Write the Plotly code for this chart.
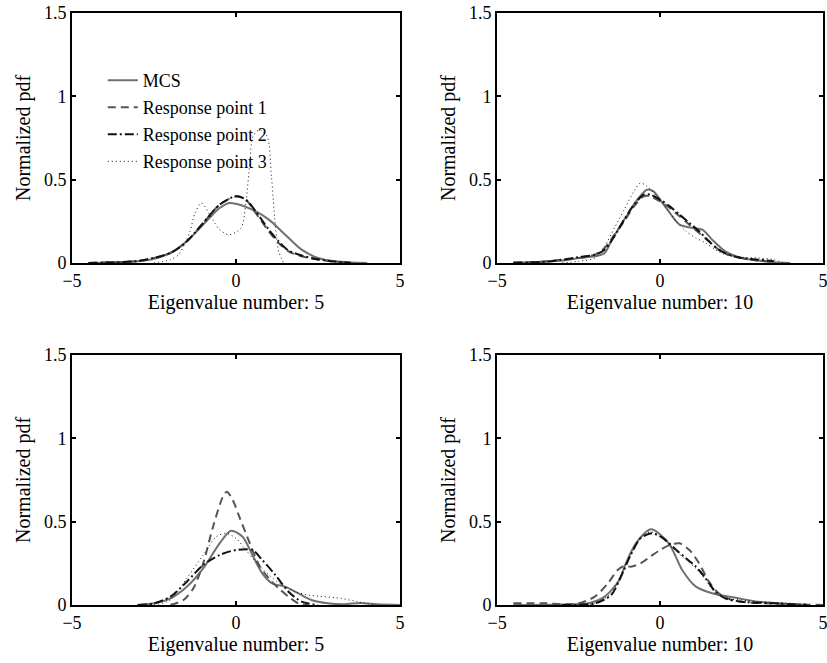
import plotly.graph_objects as go

# ---------------- data ----------------
# Panel A: top-left, eigenvalue 5
a_mcs_x = [-4.5, -4, -3.5, -3, -2.5, -2, -1.5, -1, -0.5, -0.2, 0, 0.5, 1, 1.5, 2, 2.5, 3, 3.5, 4]
a_mcs_y = [0.0, 0.002, 0.005, 0.01, 0.025, 0.06, 0.13, 0.23, 0.33, 0.36, 0.355, 0.32, 0.26, 0.17, 0.08, 0.03, 0.01, 0.003, 0.0]
a_rp1_x = [-4.5, -4, -3, -2, -1.5, -1, -0.5, 0, 0.3, 0.6, 1, 1.3, 1.6, 2, 2.5, 3, 3.5]
a_rp1_y = [0.0, 0.003, 0.012, 0.06, 0.13, 0.24, 0.35, 0.40, 0.38, 0.30, 0.19, 0.12, 0.07, 0.04, 0.02, 0.008, 0.002]
a_rp2_x = [-4.5, -4, -3, -2, -1.5, -1, -0.5, 0, 0.3, 0.6, 1, 1.3, 1.6, 2, 2.5, 3, 3.5]
a_rp2_y = [0.0, 0.003, 0.012, 0.06, 0.13, 0.24, 0.35, 0.40, 0.38, 0.31, 0.20, 0.13, 0.075, 0.045, 0.022, 0.009, 0.002]
a_rp3_x = [-2.5, -2, -1.75, -1.55, -1.4, -1.25, -1.05, -0.8, -0.5, -0.2, 0.15, 0.3, 0.42, 0.52, 0.72, 0.95, 1.08, 1.18, 1.3, 1.45]
a_rp3_y = [0.0, 0.02, 0.05, 0.12, 0.19, 0.30, 0.36, 0.29, 0.20, 0.17, 0.21, 0.36, 0.60, 0.76, 0.80, 0.76, 0.52, 0.27, 0.07, 0.0]

# Panel B: top-right, eigenvalue 10
b_mcs_x = [-4.5, -4, -3.5, -3, -2.5, -2, -1.7, -1.5, -1.2, -1, -0.7, -0.4, -0.2, 0, 0.3, 0.6, 1, 1.3, 1.6, 2, 2.5, 3, 3.5, 4]
b_mcs_y = [0.002, 0.004, 0.008, 0.015, 0.03, 0.04, 0.06, 0.13, 0.23, 0.29, 0.38, 0.44, 0.43, 0.38, 0.30, 0.23, 0.21, 0.20, 0.14, 0.07, 0.03, 0.015, 0.005, 0.0]
b_rp1_x = [-4.5, -3.5, -3, -2.5, -2, -1.7, -1.4, -1.1, -0.8, -0.5, -0.3, 0, 0.3, 0.6, 0.9, 1.2, 1.5, 1.8, 2.1, 2.5, 3, 3.5]
b_rp1_y = [0.002, 0.01, 0.02, 0.03, 0.05, 0.09, 0.17, 0.25, 0.34, 0.40, 0.40, 0.37, 0.33, 0.28, 0.23, 0.18, 0.13, 0.08, 0.05, 0.03, 0.015, 0.005]
b_rp2_x = [-4.5, -3.5, -3, -2.5, -2, -1.7, -1.4, -1.1, -0.8, -0.5, -0.3, 0, 0.3, 0.6, 0.9, 1.2, 1.5, 1.8, 2.1, 2.5, 3, 3.5]
b_rp2_y = [0.002, 0.008, 0.02, 0.035, 0.05, 0.08, 0.16, 0.26, 0.35, 0.41, 0.41, 0.38, 0.34, 0.29, 0.24, 0.19, 0.13, 0.08, 0.05, 0.03, 0.02, 0.01]
b_rp3_x = [-3, -2.5, -2, -1.7, -1.4, -1.1, -0.8, -0.6, -0.4, -0.1, 0.2, 0.5, 0.8, 1.1, 1.4, 1.7, 2, 2.5, 3, 3.5, 3.8]
b_rp3_y = [0.0, 0.01, 0.03, 0.10, 0.21, 0.32, 0.43, 0.48, 0.46, 0.40, 0.33, 0.25, 0.19, 0.15, 0.12, 0.08, 0.05, 0.035, 0.03, 0.02, 0.0]

# Panel C: bottom-left, eigenvalue 5
c_mcs_x = [-3, -2.5, -2, -1.5, -1, -0.5, -0.15, 0.2, 0.5, 0.8, 1.1, 1.5, 1.9, 2.3, 2.8, 3.3, 3.8, 4.3, 5]
c_mcs_y = [0.0, 0.01, 0.04, 0.11, 0.22, 0.37, 0.445, 0.41, 0.30, 0.19, 0.13, 0.11, 0.07, 0.03, 0.01, 0.005, 0.012, 0.005, 0.0]
c_rp1_x = [-2, -1.6, -1.3, -1.0, -0.7, -0.4, -0.28, -0.1, 0.1, 0.4, 0.7, 1.0, 1.3, 1.6, 1.9, 2.2]
c_rp1_y = [0.0, 0.03, 0.10, 0.25, 0.47, 0.65, 0.68, 0.63, 0.53, 0.38, 0.24, 0.16, 0.10, 0.05, 0.01, 0.0]
c_rp2_x = [-3, -2.5, -2, -1.5, -1, -0.5, 0, 0.5, 0.8, 1.2, 1.6, 2.0, 2.5]
c_rp2_y = [0.0, 0.01, 0.05, 0.14, 0.24, 0.30, 0.33, 0.33, 0.27, 0.18, 0.08, 0.02, 0.0]
c_rp3_x = [-2.5, -2, -1.5, -1, -0.6, -0.3, 0, 0.3, 0.6, 1, 1.4, 1.8, 2.2, 2.7, 3.2, 3.7, 4.2]
c_rp3_y = [0.0, 0.03, 0.16, 0.30, 0.41, 0.43, 0.40, 0.33, 0.26, 0.18, 0.12, 0.08, 0.06, 0.05, 0.04, 0.02, 0.0]

# Panel D: bottom-right, eigenvalue 10
d_mcs_x = [-4.5, -3, -2.2, -1.7, -1.25, -1.05, -0.74, -0.28, 0.27, 0.68, 1.1, 1.6, 2.4, 3.0, 3.6, 4.5]
d_mcs_y = [0.0, 0.003, 0.01, 0.05, 0.15, 0.25, 0.37, 0.454, 0.37, 0.21, 0.11, 0.07, 0.04, 0.02, 0.01, 0.0]
d_rp1_x = [-4.5, -3.5, -3, -2.5, -2, -1.6, -1.3, -1.1, -0.9, -0.6, -0.3, 0, 0.3, 0.6, 0.9, 1.2, 1.5, 1.8, 2.2, 2.7, 3.2, 4, 5]
d_rp1_y = [0.01, 0.01, 0.005, 0.01, 0.05, 0.13, 0.21, 0.235, 0.23, 0.25, 0.29, 0.33, 0.36, 0.37, 0.33, 0.25, 0.14, 0.07, 0.03, 0.015, 0.01, 0.005, 0.0]
d_rp2_x = [-3, -2, -1.5, -1.2, -0.9, -0.6, -0.25, 0.1, 0.5, 0.8, 1.1, 1.4, 1.7, 2.0, 2.5, 3.5, 4.5]
d_rp2_y = [0.0, 0.01, 0.06, 0.17, 0.30, 0.40, 0.43, 0.40, 0.33, 0.28, 0.23, 0.16, 0.08, 0.04, 0.02, 0.01, 0.0]
d_rp3_x = [-3, -2, -1.5, -1.2, -0.9, -0.6, -0.3, 0, 0.4, 0.8, 1.1, 1.4, 1.7, 2, 2.5, 3, 3.5, 4, 4.5]
d_rp3_y = [0.0, 0.01, 0.07, 0.18, 0.30, 0.40, 0.44, 0.41, 0.34, 0.27, 0.22, 0.15, 0.07, 0.04, 0.03, 0.02, 0.015, 0.01, 0.005]

series_names = ["MCS", "Response point 1", "Response point 2", "Response point 3"]
panel_titles = ["Eigenvalue number: 5", "Eigenvalue number: 10",
                "Eigenvalue number: 5", "Eigenvalue number: 10"]
x_ticks = [-5, 0, 5]
y_ticks = [0, 0.5, 1, 1.5]
y_tick_text = ["0", "0.5", "1", "1.5"]

panels = [
    [(a_mcs_x, a_mcs_y), (a_rp1_x, a_rp1_y), (a_rp2_x, a_rp2_y), (a_rp3_x, a_rp3_y)],
    [(b_mcs_x, b_mcs_y), (b_rp1_x, b_rp1_y), (b_rp2_x, b_rp2_y), (b_rp3_x, b_rp3_y)],
    [(c_mcs_x, c_mcs_y), (c_rp1_x, c_rp1_y), (c_rp2_x, c_rp2_y), (c_rp3_x, c_rp3_y)],
    [(d_mcs_x, d_mcs_y), (d_rp1_x, d_rp1_y), (d_rp2_x, d_rp2_y), (d_rp3_x, d_rp3_y)],
]

# ---------------- styling ----------------
styles = [
    dict(color="#707070", width=2, dash="solid"),
    dict(color="#555555", width=2, dash="8px,5px"),
    dict(color="#111111", width=2, dash="9px,3px,2px,3px"),
    dict(color="#111111", width=1, dash="1px,3px"),
]

FONT = "Liberation Serif, Times New Roman, serif"
TICK_SIZE = 18
TITLE_SIZE = 20

fig = go.Figure()

xdom = [[0.0, 0.4368], [0.566, 1.0]]
ydom = [[0.5777, 1.0], [0.0, 0.4223]]

for p, series in enumerate(panels):
    ax = "" if p == 0 else str(p + 1)
    for s, (xs, ys) in enumerate(series):
        fig.add_trace(go.Scatter(
            x=xs, y=ys, mode="lines", name=series_names[s],
            line=dict(shape="spline", smoothing=0.8, **styles[s]),
            xaxis="x" + ax, yaxis="y" + ax,
            showlegend=(p == 0), legendgroup=series_names[s],
            hoverinfo="skip",
        ))

axis_common = dict(
    showline=True, linecolor="black", linewidth=2, mirror="ticks",
    ticks="inside", ticklen=4, tickwidth=1.5, tickcolor="black",
    showgrid=False, zeroline=False, automargin=False,
    ticklabeloverflow="allow",
    tickfont=dict(family=FONT, size=TICK_SIZE, color="black"),
)

layout = {}
for p in range(4):
    ax = "" if p == 0 else str(p + 1)
    col = p % 2
    row = p // 2
    layout["xaxis" + ax] = dict(
        axis_common, domain=xdom[col], range=[-5, 5], tickvals=x_ticks,
        anchor="y" + ax,
        title=dict(text=panel_titles[p], font=dict(family=FONT, size=TITLE_SIZE, color="black"), standoff=0),
    )
    layout["yaxis" + ax] = dict(
        axis_common, domain=ydom[row], range=[0, 1.5], tickvals=y_ticks,
        ticktext=y_tick_text,
        anchor="x" + ax,
        title=dict(text="Normalized pdf", font=dict(family=FONT, size=TITLE_SIZE, color="black"), standoff=8),
    )

fig.update_layout(
    **layout,
    width=827, height=663,
    margin=dict(l=72, r=4, t=13, b=58, autoexpand=False),
    paper_bgcolor="white", plot_bgcolor="white",
    font=dict(family=FONT, size=TICK_SIZE, color="black"),
    legend=dict(
        x=0.041, y=0.917, xanchor="left", yanchor="top",
        bgcolor="rgba(0,0,0,0)", borderwidth=0,
        tracegroupgap=0.6,
        font=dict(family=FONT, size=TICK_SIZE, color="black"),
    ),
)

# remove the browser's default 8px body margin so the figure sits at the page corner
fig.write_html("out.html", config={"displayModeBar": False},
               post_script="document.body.style.margin='0';")
